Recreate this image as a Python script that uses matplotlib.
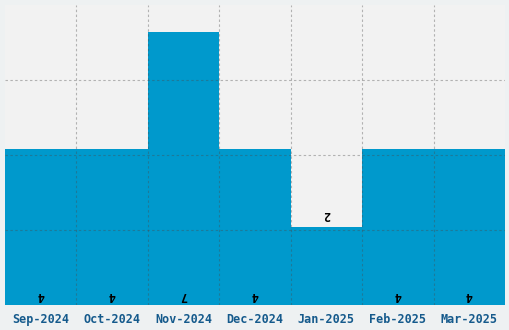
import matplotlib.pyplot as plt

months = ["Sep-2024", "Oct-2024", "Nov-2024", "Dec-2024", "Jan-2025", "Feb-2025", "Mar-2025"]
counts = [4, 4, 7, 4, 2, 4, 4]

fig = plt.figure(figsize=(5.1, 3.3), dpi=100)
fig.patch.set_facecolor("#eef1f2")
ax = fig.add_axes([5 / 510, 25 / 330, 500 / 510, 300 / 330])
ax.set_facecolor("#f2f2f2")

x = list(range(len(months)))
ax.bar(x, counts, width=1.0, color="#0099cc", zorder=1)

ymax = 7.68
ax.set_xlim(-0.5, len(months) - 0.5)
ax.set_ylim(0, ymax)
ax.set_yticks([ymax * i / 4 for i in range(1, 4)])
ax.set_xticks([i + 0.5 for i in x[:-1]], minor=True)
ax.set_xticks(x)
ax.set_xticklabels(months, fontfamily="DejaVu Sans Mono", fontsize=8.5,
                   fontweight="bold", color="#155a8c")
ax.tick_params(axis="both", which="both", length=0)
ax.tick_params(axis="x", pad=6)
ax.set_yticklabels([])
grid_kw = dict(linestyle=(0, (2.2, 2.2)), color="#4a4a4a", alpha=0.38, linewidth=0.8, zorder=2)
ax.grid(True, axis="y", **grid_kw)
ax.grid(True, axis="x", which="minor", **grid_kw)
ax.set_axisbelow(False)
for s in ax.spines.values():
    s.set_visible(False)

for xi, c in zip(x, counts):
    if c < 3:
        pos, off = c, 9
    else:
        pos, off = 0, 7
    ax.annotate(str(c), (xi, pos), xytext=(0, off), textcoords="offset points",
                ha="center", va="center", rotation=180, fontsize=8.5,
                fontweight="bold", fontfamily="DejaVu Sans Mono", color="black")

fig.savefig("out.png", dpi=100, facecolor=fig.get_facecolor())
